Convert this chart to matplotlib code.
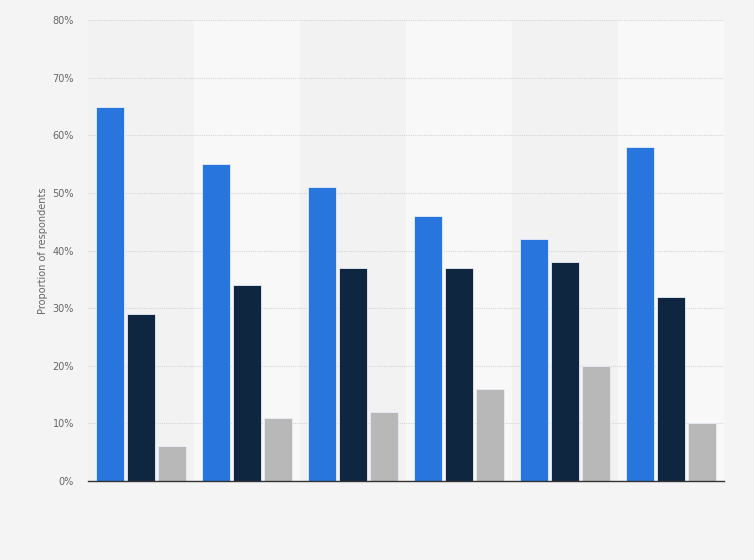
import numpy as np
import matplotlib
import matplotlib.pyplot as plt

matplotlib.use("Agg")

# values (percent)
groups = ["1", "2", "3", "4", "5", "6"]
series_a = [65, 55, 51, 46, 42, 58]
series_b = [29, 34, 37, 37, 38, 32]
series_c = [6, 11, 12, 16, 20, 10]
yticks = [0, 10, 20, 30, 40, 50, 60, 70, 80]

colors = ["#2876dd", "#0f2640", "#b8b8b8"]

fig = plt.figure(figsize=(7.54, 5.6), dpi=100, facecolor="#f4f4f4")
ax = fig.add_axes([0.1167, 0.141, 0.8435, 0.823])
ax.set_facecolor("#f4f4f4")

x = np.arange(len(groups))

# alternating column shading
for i in x:
    ax.axvspan(i - 0.5, i + 0.5, color="#f2f2f2" if i % 2 == 0 else "#f8f8f8", zorder=0, lw=0)

w = 0.265
off = 0.29
for k, vals in enumerate([series_a, series_b, series_c]):
    ax.bar(x + (k - 1) * off, vals, width=w, color=colors[k],
           edgecolor="#e8eef8", linewidth=0.6, zorder=3)

ax.set_xlim(-0.5, len(groups) - 0.5)
ax.set_ylim(0, 80)
ax.set_yticks(yticks)
ax.set_yticklabels([f"{t}%" for t in yticks], fontsize=7, color="#666666")
ax.set_xticks([])
ax.grid(axis="y", color="#d6d6d6", linestyle=(0, (1, 1)), linewidth=0.8, zorder=1)
ax.tick_params(axis="y", length=0, pad=10)

for s in ["top", "right", "left"]:
    ax.spines[s].set_visible(False)
ax.spines["bottom"].set_color("#333333")
ax.spines["bottom"].set_linewidth(1.0)
ax.spines["bottom"].set_zorder(4)

ax.set_ylabel("Proportion of respondents", fontsize=7, color="#666666", labelpad=3)

plt.savefig("out.png", dpi=100, facecolor=fig.get_facecolor())
